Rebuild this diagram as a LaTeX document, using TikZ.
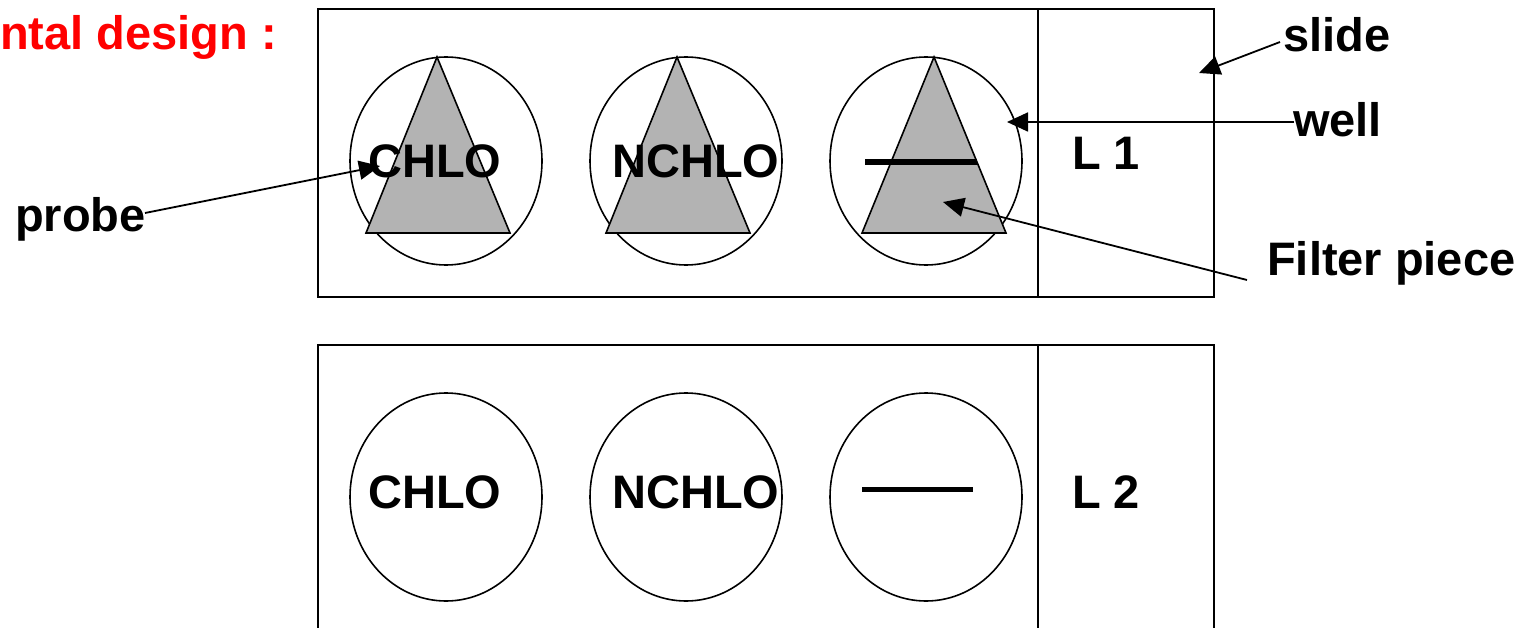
\documentclass[tikz,border=0pt]{standalone}
\usepackage{fontspec}
\setmainfont{Liberation Sans}
\usetikzlibrary{shapes.geometric,arrows.meta}
\definecolor{probegray}{RGB}{179,179,179}
\definecolor{titlered}{RGB}{255,0,0}
\begin{document}
\begin{tikzpicture}[x=1pt,y=-1pt,
  box/.style={draw,line width=1.6pt},
  wellshape/.style={draw,ellipse,line width=1.6pt,minimum width=192pt,minimum height=208pt,inner sep=0pt},
  probeshape/.style={fill=probegray,draw,line width=1.6pt,line join=miter},
  lbl/.style={font=\fontsize{47}{56}\selectfont\bfseries,inner sep=0pt,anchor=base west},
  arr/.style={line width=1.8pt,-{Triangle[length=21pt 0 0,width=19pt 0 0]}},
  bar/.style={line width=6pt}]
\clip (0,0) rectangle (1530,628);
\fill[white] (0,0) rectangle (1530,628);
% slides
\draw[box] (318,9) rectangle (1214,297);
\draw[box] (1038,9) -- (1038,297);
\draw[box] (318,345) rectangle (1214,680);
\draw[box] (1038,345) -- (1038,680);
% top wells
\node[wellshape] (w1) at (446,161) {};
\node[wellshape] (w2) at (686,161) {};
\node[wellshape] (w3) at (926,161) {};
% probes
\filldraw[probeshape] (437,57) -- (510,233) -- (366,233) -- cycle;
\filldraw[probeshape] (677,57) -- (750,233) -- (606,233) -- cycle;
\filldraw[probeshape] (934,57) -- (1006,233) -- (862,233) -- cycle;
\draw[bar] (865,162) -- (977,162);
% bottom wells
\node[wellshape] (v1) at (446,497) {};
\node[wellshape] (v2) at (686,497) {};
\node[wellshape] (v3) at (926,497) {};
\draw[line width=5pt] (862,489) -- (973,489);
% labels
\node[lbl,text=titlered] (title) at (0,50) {ntal design :};
\node[lbl] (c1) at (368,178) {CHLO};
\node[lbl] (n1) at (612,178) {NCHLO};
\node[lbl] (l1) at (1072,170) {L 1};
\node[lbl] (c2) at (368,508) {CHLO};
\node[lbl] (n2) at (612,508) {NCHLO};
\node[lbl] (l2) at (1072,508) {L 2};
\node[lbl] (slide) at (1283,52) {slide};
\node[lbl] (well) at (1293,137) {well};
\node[lbl] (filter) at (1267,275) {Filter piece};
\node[lbl] (probe) at (15,232) {probe};
% arrows
\coordinate (pstart) at (145,213);
\coordinate (ptip) at (380,166);
\coordinate (sstart) at (1280,42);
\coordinate (stip) at (1199,73);
\coordinate (wstart) at (1294,122);
\coordinate (wtip) at (1007,122);
\coordinate (fstart) at (1247,280);
\coordinate (ftip) at (943,202);
\draw[arr] (pstart) -- (ptip);
\draw[arr] (sstart) -- (stip);
\draw[arr] (wstart) -- (wtip);
\draw[arr] (fstart) -- (ftip);
\end{tikzpicture}
\end{document}
